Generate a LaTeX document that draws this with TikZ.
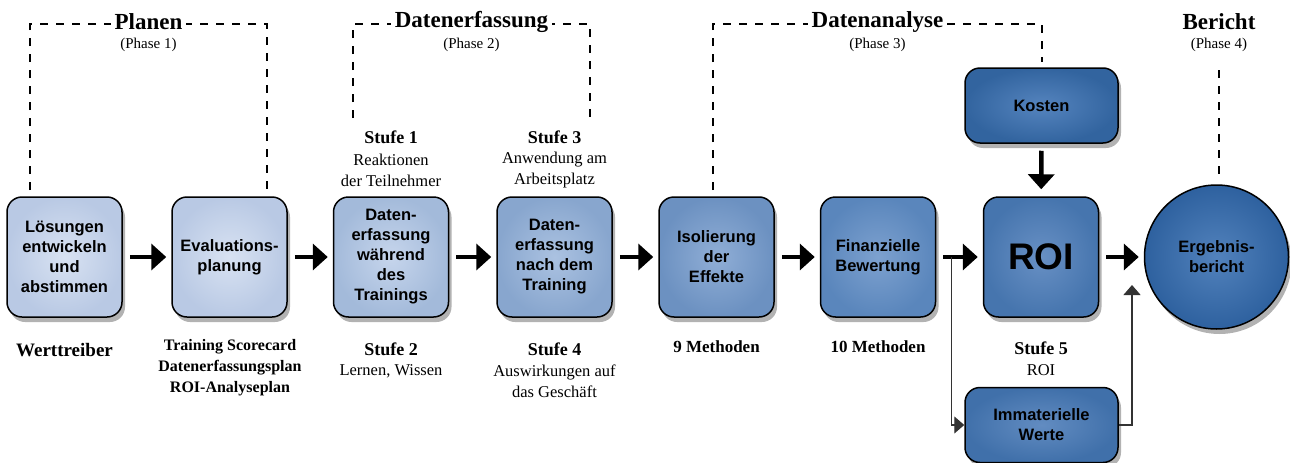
\documentclass[tikz,border=0pt]{standalone}
\usepackage{fontspec}
\setmainfont{Liberation Serif}
\setsansfont{Liberation Sans}
\usetikzlibrary{arrows.meta,shadows}

\definecolor{planOut}{HTML}{B9C9E4}
\definecolor{planIn}{HTML}{D8E2F2}
\definecolor{reaktOut}{HTML}{A3BADA}
\definecolor{reaktIn}{HTML}{C6D5EC}
\definecolor{anwOut}{HTML}{88A6CE}
\definecolor{anwIn}{HTML}{ABC2E1}
\definecolor{isoOut}{HTML}{6C91C1}
\definecolor{isoIn}{HTML}{90AED6}
\definecolor{finOut}{HTML}{5A86BC}
\definecolor{finIn}{HTML}{7DA1CF}
\definecolor{roiOut}{HTML}{4675AE}
\definecolor{roiIn}{HTML}{6890C4}
\definecolor{kostOut}{HTML}{32649F}
\definecolor{kostIn}{HTML}{5584BE}
\definecolor{immOut}{HTML}{4070AA}
\definecolor{immIn}{HTML}{628CC1}
\definecolor{ergOut}{HTML}{2E619F}
\definecolor{ergIn}{HTML}{5282BC}

\tikzset{
	box/.style={draw,line width=1.5pt,rounded corners=15pt,minimum width=115pt,minimum height=120pt,
		align=center,font=\sffamily\bfseries\fontsize{16.5}{20}\selectfont,
		drop shadow={shadow xshift=3pt,shadow yshift=-5pt,opacity=0.3,fill=black}},
	smallbox/.style={box,minimum width=153pt,minimum height=75pt},
	flow/.style={line width=4.5pt,-{Triangle[length=15pt,width=26pt]},shorten <=7pt,shorten >=5pt},
	thinarrow/.style={line width=1.2pt,draw=black!80,-{Triangle[length=10pt,width=17pt]}},
	phaseline/.style={dashed,dash pattern=on 8pt off 8pt,line width=2pt},
	phasetitle/.style={fill=white,inner sep=4pt,font=\bfseries\fontsize{23}{26}\selectfont},
	phasesub/.style={font=\fontsize{15}{18}\selectfont},
	stufe/.style={font=\bfseries\fontsize{18}{21}\selectfont},
	note/.style={align=center,font=\fontsize{16.5}{21}\selectfont},
	boldnote/.style={align=center,font=\bfseries\fontsize{16}{21}\selectfont}
}

\begin{document}
\begin{tikzpicture}[x=1pt,y=-1pt]
	\useasboundingbox (0,0) rectangle (1290,463);
	% phase brackets
	\draw [phaseline] (30,190) |- (267,24) -- (267,190);
	\draw [phaseline] (353,118) |- (590,24) -- (590,118);
	\draw [phaseline] (713,190) |- (1042,24) -- (1042,62);
	\draw [phaseline] (1219,70) -- (1219,178);
	\node [phasetitle] (tPlan) at (148.5,22) {Planen};
	\node [phasetitle] (tDaten) at (471.5,22) {Datenerfassung};
	\node [phasetitle] (tAnalyse) at (877.5,22) {Datenanalyse};
	\node [phasetitle] (tBericht) at (1219,22) {Bericht};
	\node [phasesub] (pPlan) at (148.5,45) {(Phase 1)};
	\node [phasesub] (pDaten) at (471.5,45) {(Phase 2)};
	\node [phasesub] (pAnalyse) at (877.5,45) {(Phase 3)};
	\node [phasesub] (pBericht) at (1219,45) {(Phase 4)};
	% process boxes
	\node [box,outer color=planOut,inner color=planIn] (loes) at (64.5,257) {Lösungen\\entwickeln\\und\\abstimmen};
	\node [box,outer color=planOut,inner color=planIn] (eval) at (229.5,257) {Evaluations-\\planung};
	\node [box,outer color=reaktOut,inner color=reaktIn] (waehrend) at (391,257) {Daten-\\erfassung\\während\\des\\Trainings};
	\node [box,outer color=anwOut,inner color=anwIn] (nach) at (554.5,257) {Daten-\\erfassung\\nach dem\\Training};
	\node [box,outer color=isoOut,inner color=isoIn] (iso) at (716.5,257) {Isolierung\\der\\Effekte};
	\node [box,outer color=finOut,inner color=finIn] (fin) at (878,257) {Finanzielle\\Bewertung};
	\node [box,outer color=roiOut,inner color=roiIn,font=\sffamily\bfseries\fontsize{37}{40}\selectfont] (roi) at (1041,257) {ROI};
	\node [smallbox,outer color=kostOut,inner color=kostIn] (kosten) at (1041.5,105.5) {Kosten};
	\node [smallbox,outer color=immOut,inner color=immIn] (immat) at (1041.5,425) {Immaterielle\\Werte};
	\node [box,circle,minimum size=144pt,outer color=ergOut,inner color=ergIn] (erg) at (1216.5,257) {Ergebnis-\\bericht};
	\coordinate (merge) at (1132,285);
	% arrows
	\draw [flow] (loes) -- (eval);
	\draw [flow] (eval) -- (waehrend);
	\draw [flow] (waehrend) -- (nach);
	\draw [flow] (nach) -- (iso);
	\draw [flow] (iso) -- (fin);
	\draw [flow] (fin) -- (roi);
	\draw [flow] (roi) -- (erg);
	\draw [flow,shorten >=7pt] (kosten) -- (roi);
	\draw [thinarrow] ([xshift=15pt]fin.east) |- (immat);
	\draw [thinarrow] (immat) -| (merge);
	% level labels
	\node [stufe] (s1) at (391,137) {Stufe 1};
	\node [note] (s1txt) at (391,170) {Reaktionen\\der Teilnehmer};
	\node [stufe] (s3) at (554.5,137) {Stufe 3};
	\node [note] (s3txt) at (554.5,170) {Anwendung am\\Arbeitsplatz};
	\node [stufe,font=\bfseries\fontsize{19}{21}\selectfont] (wert) at (64.5,350) {Werttreiber};
	\node [boldnote] (plaene) at (230,368) {Training Scorecard\\Datenerfassungsplan\\ROI-Analyseplan};
	\node [stufe] (s2) at (391,349) {Stufe 2};
	\node [note] (s2txt) at (391,371) {Lernen, Wissen};
	\node [stufe] (s4) at (554.5,349) {Stufe 4};
	\node [note] (s4txt) at (554.5,381.5) {Auswirkungen auf\\das Geschäft};
	\node [boldnote,font=\bfseries\fontsize{17}{21}\selectfont] (m9) at (716.5,347) {9 Methoden};
	\node [boldnote,font=\bfseries\fontsize{17}{21}\selectfont] (m10) at (878,347) {10 Methoden};
	\node [stufe] (s5) at (1041,348) {Stufe 5};
	\node [note] (s5txt) at (1041,370) {ROI};
\end{tikzpicture}
\end{document}
